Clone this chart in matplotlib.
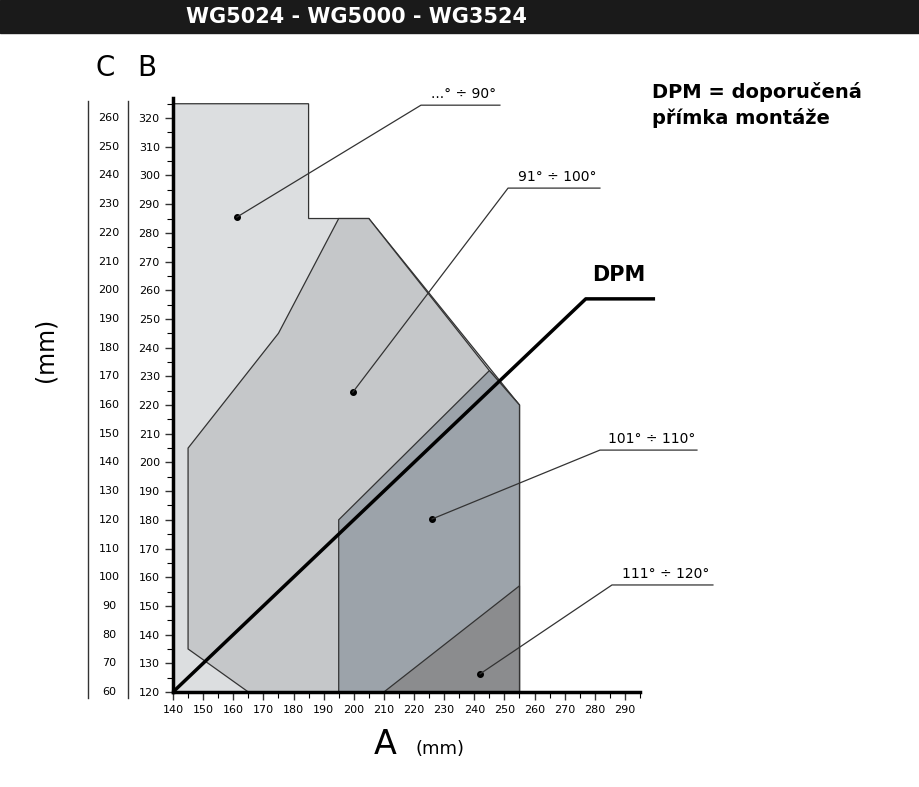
import matplotlib
matplotlib.use("Agg")
import matplotlib.pyplot as plt
from matplotlib.patches import Polygon, Rectangle

# Region polygons (A mm, B mm)
reg90_A = [140, 140, 185, 185, 205, 255, 255]
reg90_B = [120, 325, 325, 285, 285, 220, 120]
reg100_A = [165, 145, 145, 175, 195, 205, 245, 255, 255]
reg100_B = [120, 135, 205, 245, 285, 285, 232, 220, 120]
reg110_A = [195, 195, 245, 255, 255]
reg110_B = [120, 180, 232, 220, 120]
reg120_A = [210, 255, 255]
reg120_B = [120, 157, 120]
dpm_A = [140, 277, 300]
dpm_B = [120, 257, 257]
labels = ["...° ÷ 90°", "91° ÷ 100°", "101° ÷ 110°", "111° ÷ 120°"]
dot_A = [161.2, 199.7, 226.0, 241.9]
dot_B = [285.5, 224.5, 180.3, 126.3]
line_A0 = [222.3, 251.2, 281.7, 285.7]
line_A1 = [248.5, 281.7, 313.9, 319.2]
line_B = [324.5, 295.6, 204.3, 157.3]
x_ticks = list(range(140, 300, 10))
b_ticks = list(range(120, 330, 10))
c_ticks = [b - 60 for b in b_ticks]

fig = plt.figure(figsize=(9.19, 7.87), dpi=100)
ax = fig.add_axes([173/919, 95/787, 467/919, 594/787])
ax.set_xlim(140, 295)
ax.set_ylim(120, 327)

cols = ["#dcdee0", "#c5c7c9", "#9ca3aa", "#8b8c8e"]
for (A, B), c in zip([(reg90_A, reg90_B), (reg100_A, reg100_B), (reg110_A, reg110_B), (reg120_A, reg120_B)], cols):
    ax.add_patch(Polygon(list(zip(A, B)), closed=True, facecolor=c, edgecolor="#333333", lw=0.9))

ax.plot(dpm_A, dpm_B, color="black", lw=2.5, clip_on=False, solid_capstyle="butt")
ax.text(288, 262, "DPM", fontsize=15, fontweight="bold", ha="center", va="bottom")

for lab, xa, ya, x0, x1, yl in zip(labels, dot_A, dot_B, line_A0, line_A1, line_B):
    ax.plot([xa], [ya], "o", color="black", ms=4, clip_on=False)
    ax.plot([xa, x0, x1], [ya, yl, yl], color="#333333", lw=0.9, clip_on=False)
    ax.text((x0 + x1) / 2 + 1, yl + 1.5, lab, fontsize=10, ha="center", va="bottom")

for s in ["top", "right"]:
    ax.spines[s].set_visible(False)
ax.spines["left"].set_linewidth(2.5)
ax.spines["bottom"].set_linewidth(2.5)
ax.set_xticks(x_ticks)
ax.set_xticks(range(145, 300, 10), minor=True)
ax.set_yticks(b_ticks)
ax.set_yticks(range(125, 330, 10), minor=True)
ax.tick_params(labelsize=8, direction="out", length=6, width=1, color="#333333")
ax.tick_params(which="minor", length=4, width=0.8)

# C axis labels and vertical lines
trans = ax.get_yaxis_transform()
ax.plot([(88-173)/467]*2, [118, 326], transform=trans, color="#333333", lw=1, clip_on=False)
ax.plot([(128-173)/467]*2, [118, 326], transform=trans, color="#333333", lw=1, clip_on=False)
for b, c in zip(b_ticks, c_ticks):
    ax.text((109-173)/467, b, str(c), transform=trans, fontsize=8, ha="center", va="center")

fig.text(105/919, 1-68/787, "C", fontsize=20, ha="center", va="center")
fig.text(147/919, 1-68/787, "B", fontsize=20, ha="center", va="center")
fig.text(45/919, 1-350/787, "(mm)", fontsize=17, rotation=90, ha="center", va="center")
fig.text(385/919, 1-745/787, "A", fontsize=24, ha="center", va="center")
fig.text(440/919, 1-749/787, "(mm)", fontsize=13, ha="center", va="center")

fig.text(652/919, 1-92/787, "DPM = doporučená", fontsize=14, fontweight="bold", va="center")
fig.text(652/919, 1-118/787, "přímka montáže", fontsize=14, fontweight="bold", va="center")

fig.add_artist(Rectangle((0, 1-33/787), 1, 33/787, transform=fig.transFigure, color="#1a1a1a"))
fig.text(357/919, 1-17/787, "WG5024 - WG5000 - WG3524", fontsize=15, fontweight="bold",
         color="white", ha="center", va="center")

fig.savefig("out.png", dpi=100)
